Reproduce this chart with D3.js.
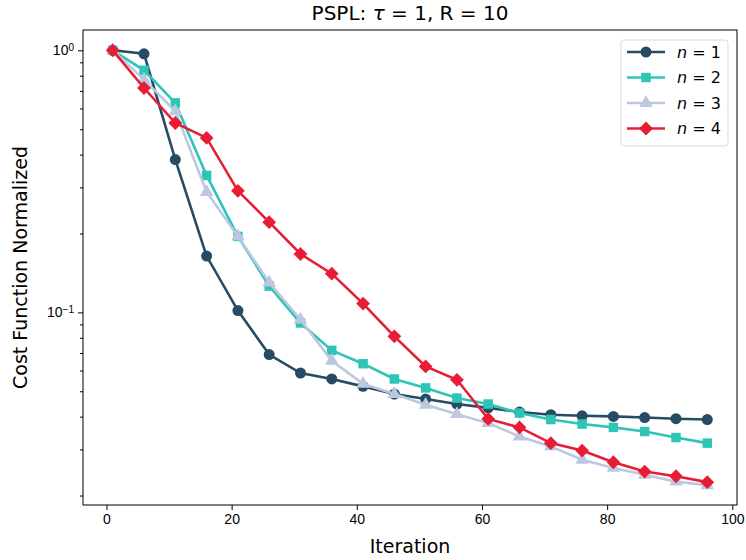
<!DOCTYPE html>
<html>
<head>
<meta charset="utf-8">
<script src="https://cdn.jsdelivr.net/npm/d3@7"></script>
<style>
  body { margin: 0; background: #fff; }
  svg { font-family: "DejaVu Sans", sans-serif; }
</style>
</head>
<body>
<svg id="chart"></svg>
<script>
const iterations = [1, 6, 11, 16, 21, 26, 31, 36, 41, 46, 51, 56, 61, 66, 71, 76, 81, 86, 91, 96];

const costN1 = [1.0, 0.97, 0.383, 0.164, 0.1016, 0.069, 0.0587, 0.0557, 0.0522, 0.0488, 0.0467, 0.0447, 0.0432, 0.0417, 0.0407, 0.0403, 0.0401, 0.0397, 0.0393, 0.0390];
const costN2 = [1.0, 0.839, 0.630, 0.333, 0.195, 0.126, 0.0911, 0.0716, 0.0637, 0.0557, 0.0515, 0.0471, 0.0447, 0.0413, 0.0390, 0.0375, 0.0364, 0.0351, 0.0333, 0.0317];
const costN3 = [1.0, 0.773, 0.585, 0.288, 0.195, 0.130, 0.0938, 0.0654, 0.0534, 0.0488, 0.0444, 0.0409, 0.0378, 0.0336, 0.0308, 0.0274, 0.0255, 0.0240, 0.0226, 0.0219];
const costN4 = [1.0, 0.718, 0.528, 0.463, 0.291, 0.221, 0.167, 0.1405, 0.108, 0.081, 0.0622, 0.0553, 0.0392, 0.0364, 0.0317, 0.0297, 0.0268, 0.0247, 0.0237, 0.0225];

const seriesNames = ["1", "2", "3", "4"];
const seriesColors = ["#264b63", "#2ec4b6", "#bcc8e0", "#e71d36"];
const seriesMarkers = ["circle", "square", "triangle", "diamond"];
const xTicks = [0, 20, 40, 60, 80, 100];

const series = [costN1, costN2, costN3, costN4].map((vals, i) => ({
  name: seriesNames[i],
  color: seriesColors[i],
  marker: seriesMarkers[i],
  points: vals.map((v, j) => ({ x: iterations[j], y: v }))
}));

// matplotlib-like markers ('D' is a square turned 45 degrees)
function markerPath(kind) {
  if (kind === "circle") return { d: d3.symbol().type(d3.symbolCircle).size(95)(), rot: 0 };
  if (kind === "square") return { d: d3.symbol().type(d3.symbolSquare).size(90)(), rot: 0 };
  if (kind === "triangle") return { d: d3.symbol().type(d3.symbolTriangle).size(80)(), rot: 0 };
  return { d: d3.symbol().type(d3.symbolSquare).size(95)(), rot: 45 };
}

const width = 746, height = 560;
const margin = { top: 30, right: 9, bottom: 55, left: 83 };

const svg = d3.select("#chart").attr("width", width).attr("height", height);

const x = d3.scaleLinear()
    .domain([-3.75, 100.75])
    .range([margin.left, width - margin.right]);

const y = d3.scaleLog()
    .domain([Math.pow(10, -1.735), Math.pow(10, 0.0775)])
    .range([height - margin.bottom, margin.top]);

// x axis
const xAxis = svg.append("g")
    .attr("transform", `translate(0,${height - margin.bottom})`)
    .call(d3.axisBottom(x).tickValues(xTicks).tickSize(5).tickPadding(4));
xAxis.select(".domain").remove();
xAxis.selectAll("text").attr("font-size", 14).attr("fill", "#000");

// y axis: major and minor ticks
const minorVals = [];
for (let e = -2; e <= 0; e++) {
  for (let m = 2; m <= 9; m++) {
    const v = m * Math.pow(10, e);
    if (v >= y.domain()[0] && v <= y.domain()[1]) minorVals.push(v);
  }
}
const yMinor = svg.append("g")
    .attr("transform", `translate(${margin.left},0)`)
    .call(d3.axisLeft(y).tickValues(minorVals).tickSize(3).tickFormat(""));
yMinor.select(".domain").remove();

const yMajor = svg.append("g")
    .attr("transform", `translate(${margin.left},0)`)
    .call(d3.axisLeft(y).tickValues([0.1, 1]).tickSize(5).tickFormat(""));
yMajor.select(".domain").remove();

yMajor.selectAll(".tick").each(function(d) {
  const t = d3.select(this).append("text")
      .attr("x", -9).attr("dy", "0.32em")
      .attr("text-anchor", "end").attr("fill", "#000")
      .attr("font-size", 14);
  t.append("tspan").text("10");
  t.append("tspan").attr("dy", "-0.45em").attr("font-size", 10)
      .text(d === 1 ? "0" : "\u22121");
});

// frame
svg.append("rect")
    .attr("x", margin.left).attr("y", margin.top)
    .attr("width", width - margin.left - margin.right)
    .attr("height", height - margin.top - margin.bottom)
    .attr("fill", "none").attr("stroke", "#000").attr("stroke-width", 1);

// lines and markers
const line = d3.line().x(d => x(d.x)).y(d => y(d.y));

series.forEach(s => {
  svg.append("path")
      .datum(s.points)
      .attr("d", line)
      .attr("fill", "none")
      .attr("stroke", s.color)
      .attr("stroke-width", 2.6);
  const m = markerPath(s.marker);
  svg.append("g").selectAll("path")
      .data(s.points)
      .join("path")
      .attr("transform", d => `translate(${x(d.x)},${y(d.y)}) rotate(${m.rot})`)
      .attr("d", m.d)
      .attr("fill", s.color);
});

// title and labels
svg.append("text")
    .attr("x", (margin.left + width - margin.right) / 2).attr("y", 20)
    .attr("text-anchor", "middle").attr("font-size", 20)
    .html('PSPL: <tspan font-style="italic">τ</tspan> = 1, R = 10');

svg.append("text")
    .attr("x", (margin.left + width - margin.right) / 2).attr("y", 553)
    .attr("text-anchor", "middle").attr("font-size", 19)
    .text("Iteration");

svg.append("text")
    .attr("transform", `translate(27,${(margin.top + height - margin.bottom) / 2}) rotate(-90)`)
    .attr("text-anchor", "middle").attr("font-size", 19)
    .text("Cost Function Normalized");

// legend
const legend = svg.append("g").attr("transform", "translate(621,40)");
legend.append("rect")
    .attr("width", 107).attr("height", 106).attr("rx", 3)
    .attr("fill", "#fff").attr("fill-opacity", 0.8)
    .attr("stroke", "#d9d9d9");

series.forEach((s, i) => {
  const g = legend.append("g").attr("transform", `translate(0,${12 + i * 25.5})`);
  g.append("line").attr("x1", 6).attr("x2", 44)
      .attr("stroke", s.color).attr("stroke-width", 2.6);
  const m = markerPath(s.marker);
  g.append("path").attr("transform", `translate(25,0) rotate(${m.rot})`)
      .attr("d", m.d)
      .attr("fill", s.color);
  g.append("text").attr("x", 56).attr("dy", "0.35em")
      .attr("font-size", 16)
      .html(`<tspan font-style="italic">n</tspan> = ${s.name}`);
});
</script>
</body>
</html>
